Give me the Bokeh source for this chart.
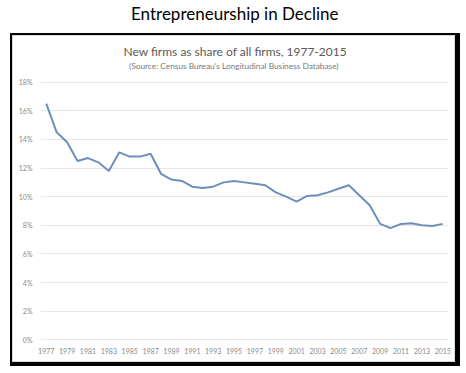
from bokeh.plotting import figure
from bokeh.models import FixedTicker, PrintfTickFormatter, Title, Range1d
from bokeh.embed import file_html
from bokeh.resources import INLINE

years = list(range(1977, 2016))
share = [16.5, 14.5, 13.8, 12.5, 12.7, 12.4, 11.8, 13.1, 12.8, 12.8,
         13.0, 11.6, 11.2, 11.1, 10.7, 10.6, 10.7, 11.0, 11.1, 11.0,
         10.9, 10.8, 10.3, 10.0, 9.65, 10.05, 10.1, 10.3, 10.55, 10.8,
         10.1, 9.4, 8.1, 7.8, 8.1, 8.15, 8.0, 7.95, 8.1]
x_ticks = list(range(1977, 2016, 2))
y_ticks = list(range(0, 19, 2))

main_title = "Entrepreneurship in Decline"
chart_title = "New firms as share of all firms, 1977-2015"
chart_subtitle = "(Source: Census Bureau's Longitudinal Business Database)"

FONT = "Lato"

p = figure(width=466, height=373, output_backend="svg", toolbar_location=None,
           x_range=Range1d(1976.45, 2015.55), y_range=Range1d(-0.05, 18.05),
           min_border_left=40, min_border_right=18, min_border_bottom=33,
           min_border_top=80)

p.line(years, share, line_color="#6E8FB9", line_width=2)


def spacer(standoff):
    return Title(text=" ", text_font_size="1px", standoff=standoff)


sub = Title(text=chart_subtitle, align="left", offset=88.5, text_font=FONT,
            text_font_size="8.3px", text_color="#7a7a7a",
            text_font_style="normal", standoff=0)
ttl = Title(text=chart_title, align="left", offset=83, text_font=FONT,
            text_font_size="12px", text_color="#595959",
            text_font_style="normal", standoff=0)
top = Title(text=main_title, align="left", offset=90.5, text_font=FONT,
            text_font_size="17px", text_color="#000000",
            text_font_style="normal", standoff=0)

p.add_layout(spacer(7.5), "above")
p.add_layout(sub, "above")
p.add_layout(ttl, "above")
p.add_layout(spacer(15.3), "above")
p.add_layout(top, "above")

p.xaxis.ticker = FixedTicker(ticks=x_ticks)
p.yaxis.ticker = FixedTicker(ticks=y_ticks)
p.yaxis.formatter = PrintfTickFormatter(format="%d%%")
for ax in (p.xaxis, p.yaxis):
    ax.axis_line_color = None
    ax.major_tick_line_color = None
    ax.minor_tick_line_color = None
    ax.major_tick_out = 0
    ax.major_tick_in = 0
    ax.minor_tick_out = 0
    ax.major_label_text_font = FONT
    ax.major_label_text_font_size = "7px"
    ax.major_label_text_color = "#8a8a8a"
p.yaxis.major_label_standoff = 8
p.xaxis.major_label_standoff = 7

p.xgrid.grid_line_color = None
p.ygrid.grid_line_color = "#e6e6e6"
p.outline_line_color = None
p.background_fill_color = "white"
p.border_fill_color = None

# black picture frame around the inner chart, drawn behind the canvas
p.styles = {
    "background": ("linear-gradient(#fff,#fff) 13px 36px / 441px 325px no-repeat, "
                   "linear-gradient(#d9d9d9,#d9d9d9) 12px 35px / 443px 327px no-repeat, "
                   "linear-gradient(#000,#000) 10px 33px / 450px 333px no-repeat, "
                   "#fff"),
}

open("out.html", "w").write(file_html(p, INLINE))
